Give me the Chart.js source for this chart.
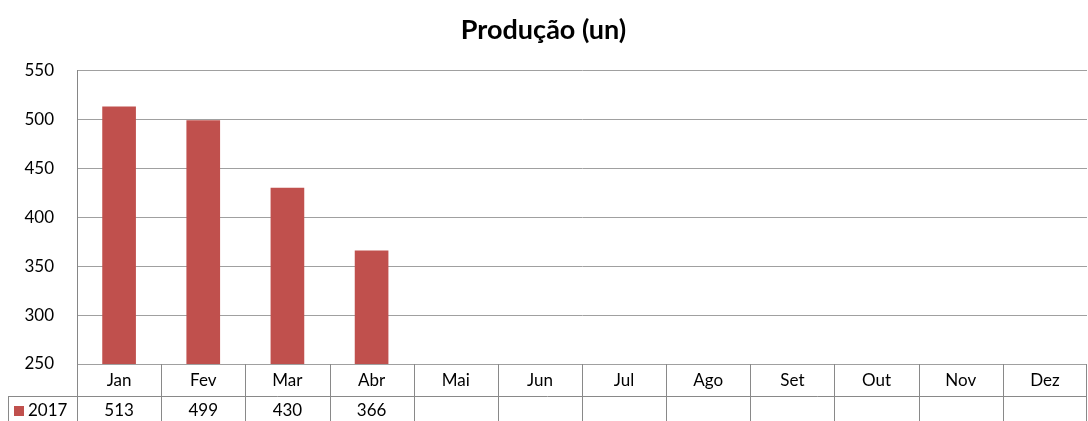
<!DOCTYPE html>
<html>
<head>
<meta charset="utf-8">
<script src="https://cdn.jsdelivr.net/npm/chart.js@4/dist/chart.umd.min.js"></script>
<style>
  html, body { margin: 0; padding: 0; background: #fff; }
  #wrap { width: 1088px; height: 421px; }
</style>
</head>
<body>
<div id="wrap"><canvas id="ProducaoChart"></canvas></div>
<script>
// Produção (un)
var meses = ['Jan', 'Fev', 'Mar', 'Abr', 'Mai', 'Jun', 'Jul', 'Ago', 'Set', 'Out', 'Nov', 'Dez'];
var producao2017 = [513, 499, 430, 366, null, null, null, null, null, null, null, null];
var serieNome = '2017';
var corBarra = '#C0504D';
var fonte = 'Lato, "Liberation Sans", sans-serif';

// tabela de dados abaixo do eixo (estilo Excel)
var tabelaDados = {
  id: 'tabelaDados',
  afterDraw: function (chart) {
    var c = chart.ctx, area = chart.chartArea, x = chart.scales.x;
    var larg = (area.right - area.left) / meses.length;
    var topo = area.bottom, meio = area.bottom + 32, fim = chart.height;
    c.save();
    c.strokeStyle = '#898989';
    c.lineWidth = 1;
    c.beginPath();
    // linhas verticais
    for (var i = 0; i <= meses.length; i++) {
      var px = Math.round(x.getPixelForValue(i) - larg / 2) + 0.5;
      if (i === meses.length) px = Math.round(area.right) - 0.5;
      c.moveTo(px, topo);
      c.lineTo(px, fim);
    }
    // linha horizontal entre cabeçalho e valores
    c.moveTo(8, meio + 0.5);
    c.lineTo(area.right, meio + 0.5);
    // borda da célula da legenda
    c.moveTo(8.5, meio);
    c.lineTo(8.5, fim);
    c.stroke();

    c.fillStyle = '#000';
    c.font = '17px ' + fonte;
    c.textAlign = 'center';
    c.textBaseline = 'middle';
    meses.forEach(function (m, i) {
      var cx = x.getPixelForValue(i);
      c.fillText(m, cx, topo + 17);
      if (producao2017[i] != null) c.fillText(producao2017[i], cx, meio + 15);
    });
    // legenda
    c.fillStyle = corBarra;
    c.fillRect(14, meio + 10, 10, 10);
    c.fillStyle = '#000';
    c.textAlign = 'left';
    c.fillText(serieNome, 28, meio + 15);
    c.restore();
  }
};

var ctx = document.getElementById('ProducaoChart').getContext('2d');
var myChart = new Chart(ctx, {
  type: 'bar',
  data: {
    labels: meses,
    datasets: [
      {
        label: serieNome,
        data: producao2017,
        backgroundColor: corBarra,
        borderWidth: 0,
        barPercentage: 0.4,
        categoryPercentage: 1
      }
    ]
  },
  options: {
    responsive: true,
    maintainAspectRatio: false,
    animation: false,
    layout: { padding: { left: 0, right: 1, bottom: 57 } },
    plugins: {
      legend: { display: false },
      tooltip: { enabled: false },
      title: {
        display: true,
        text: 'Produção (un)',
        color: '#000',
        font: { family: fonte, size: 27, weight: 'bold', lineHeight: 1.2 },
        padding: { top: 14, bottom: 24 }
      }
    },
    scales: {
      x: { display: false },
      y: {
        min: 250,
        max: 550,
        ticks: { stepSize: 50, color: '#000', padding: 23, font: { family: fonte, size: 17 } },
        grid: { color: '#a0a0a0', drawTicks: false },
        border: { color: '#868686' },
        afterFit: function (s) { s.width = 77; }
      }
    }
  },
  plugins: [tabelaDados]
});
</script>
</body>
</html>
